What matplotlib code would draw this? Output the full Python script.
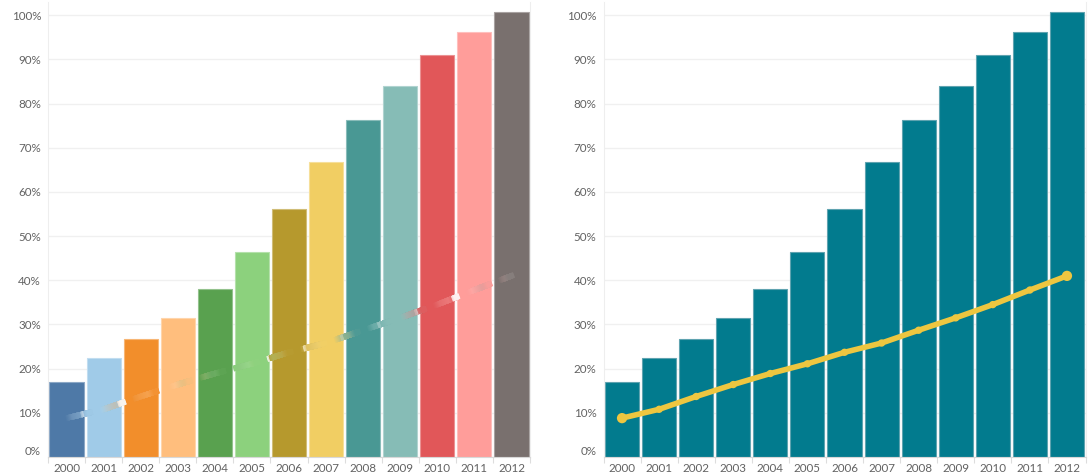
import numpy as np
import matplotlib
matplotlib.use("Agg")
import matplotlib.pyplot as plt
from matplotlib.collections import LineCollection
from matplotlib.colors import to_rgb

years = [str(y) for y in range(2000, 2013)]
bar_values = [0.170, 0.224, 0.266, 0.315, 0.381, 0.463, 0.561, 0.667, 0.762, 0.840, 0.910, 0.963, 1.008]
line_values = [0.088, 0.108, 0.137, 0.164, 0.189, 0.211, 0.237, 0.258, 0.287, 0.315, 0.345, 0.378, 0.410]
year_colors = ["#4e79a7", "#a0cbe8", "#f28e2b", "#ffbe7d", "#59a14f", "#8cd17d", "#b6992d",
               "#f1ce63", "#499894", "#86bcb6", "#e15759", "#ff9d9a", "#79706e"]
yticks = [i / 10 for i in range(11)]

TEAL = "#027b8e"
YELLOW = "#eec640"
TXT = "#626262"
BAR_W = 0.92

plt.rcParams['font.family'] = ['Lato', 'DejaVu Sans']

fig = plt.figure(figsize=(10.89, 4.74), dpi=100)
W, H = 1089, 474
ax1 = fig.add_axes([48 / W, 17 / H, 482 / W, 455 / H])
ax2 = fig.add_axes([603.5 / W, 17 / H, 482 / W, 455 / H])

x = np.arange(len(years))


def lighten(c, f=0.35):
    r = np.array(to_rgb(c))
    return tuple(r + (1 - r) * f)


def style(ax):
    ax.set_xlim(-0.5, len(years) - 0.5)
    ax.set_ylim(0, 1.03)
    ax.set_yticks(yticks)
    ax.set_yticklabels(["%d%%" % round(v * 100) for v in yticks])
    ax.set_xticks(x)
    ax.set_xticklabels(years)
    ax.set_xticks(np.arange(-0.5, len(years)), minor=True)
    ax.tick_params(axis='both', which='major', length=0, labelsize=8.4, colors=TXT)
    ax.tick_params(axis='x', which='major', pad=4)
    ax.tick_params(axis='y', which='major', pad=5)
    ax.tick_params(axis='x', which='minor', length=4, color="#dddddd", width=0.8)
    ax.grid(axis='y', color="#f0f0f0", lw=1)
    ax.set_axisbelow(True)
    ax.spines['top'].set_visible(False)
    for s in ['left', 'right']:
        ax.spines[s].set_color("#eeeeee")
        ax.spines[s].set_linewidth(0.8)
    ax.spines['bottom'].set_color("#d8d8d8")
    ax.spines['bottom'].set_linewidth(0.8)
    ax.get_yticklabels()[0].set_va('bottom')


# left chart: colored bars + gradient dashed line
style(ax1)
ax1.bar(x, bar_values, width=BAR_W, color=year_colors,
        edgecolor=[lighten(c) for c in year_colors], linewidth=0.8, zorder=2)

fine_t = np.linspace(0, len(years) - 1, 1500)
fine_y = np.interp(fine_t, x, line_values)
pts = np.column_stack([fine_t, fine_y])
disp = ax1.transData.transform(pts)
arc = np.concatenate([[0], np.cumsum(np.hypot(*np.diff(disp, axis=0).T))])
mid_arc = (arc[:-1] + arc[1:]) / 2
DASH_ON, PERIOD, LW = 26, 35, 4
phase = mid_arc % PERIOD
keep = (phase > LW / 2) & (phase < DASH_ON - LW / 2)
segs = np.stack([pts[:-1], pts[1:]], axis=1)[keep]
mid_t = ((fine_t[:-1] + fine_t[1:]) / 2)[keep]

# dash colour: gradient between year colours, fading to what lies behind at the dash ends
rgb = np.array([lighten(c, 0.12) for c in year_colors])
cols = np.column_stack([np.interp(mid_t, x, rgb[:, k]) for k in range(3)])
edge = np.minimum(phase[keep], DASH_ON - phase[keep])
alpha = 0.8 * np.clip((edge - 1) / 7, 0.15, 1)
nearest = np.rint(mid_t).astype(int)
inside = np.abs(mid_t - nearest) < BAR_W / 2
bar_rgb = np.array([to_rgb(c) for c in year_colors])
bg = np.where(inside[:, None], bar_rgb[nearest], 1.0)
cols = alpha[:, None] * cols + (1 - alpha[:, None]) * bg
lc = LineCollection(segs, colors=cols, linewidths=LW, capstyle='projecting', zorder=3)
ax1.add_collection(lc)

# right chart: teal bars + yellow line
style(ax2)
ax2.bar(x, bar_values, width=BAR_W, color=TEAL, edgecolor="#5fa3b0", linewidth=0.8, zorder=2)
ax2.plot(x, line_values, color=YELLOW, lw=4, zorder=3, solid_capstyle='round')
sizes = [55 if i in (0, len(x) - 1) else 28 for i in x]
ax2.scatter(x, line_values, s=sizes, color=YELLOW, zorder=4, linewidths=0)

fig.savefig("out.png", dpi=100, facecolor="white")
